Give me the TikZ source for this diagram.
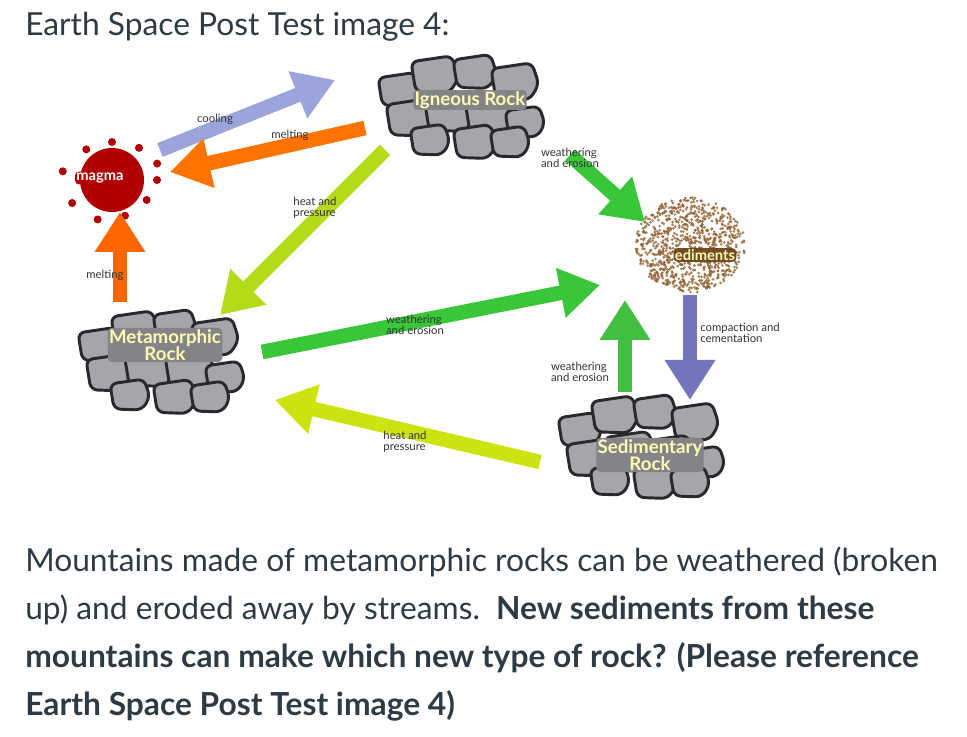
\documentclass[tikz,border=0pt]{standalone}
\usepackage{fontspec}
\setmainfont{Lato}
\usetikzlibrary{arrows.meta}
\definecolor{rockg}{RGB}{165,165,170}
\definecolor{rockd}{RGB}{40,40,45}
\definecolor{txt}{RGB}{45,59,69}
\tikzset{
 big/.style={-{Triangle[length=30pt,width=36pt]},line width=11pt},
 lbl/.style={font=\fontsize{8.5}{8}\selectfont,text=black!80,align=left,inner sep=0pt},
 rocklbl/.style={font=\fontsize{14}{13}\selectfont\bfseries,text=yellow!30!white,align=center,inner sep=1pt,fill=rockg!80!black,rounded corners=3pt},
 para/.style={font=\fontsize{23.8}{24}\selectfont,text=txt,anchor=west,inner sep=0pt},
 stone/.style={fill=rockg,draw=rockd,line width=2.2pt,rounded corners=5pt},
 pics/rocks/.style={code={
  \foreach \a/\b/\r in {-65/-10/22,-30/-25/24,10/-28/22,50/-18/24,-55/18/24,-15/12/26,25/15/25,60/22/20,-35/40/20,10/42/22,45/42/20}{
   \filldraw[stone] (\a-\r,\b-\r*0.55) -- (\a+\r*0.7,\b-\r*0.8) -- (\a+\r,\b+\r*0.1) -- (\a+\r*0.6,\b+\r*0.75) -- (\a-\r*0.8,\b+\r*0.7) -- cycle;}
 }}
}
\begin{document}
\begin{tikzpicture}[x=0.75pt,y=-0.75pt]
\useasboundingbox[fill=white] (0,0) rectangle (967,737);
\node[para] (title) at (25,27) {Earth Space Post Test image 4:};
% rocks
\pic at (465,100) {rocks};
\pic at (165,355) {rocks};
\pic at (645,440) {rocks};
\node[rocklbl] (ign) at (470,100) {Igneous Rock};
\node[rocklbl] (met) at (165,345) {Metamorphic\\Rock};
\node[rocklbl] (sed) at (650,455) {Sedimentary\\Rock};
% magma
\fill[red!70!black] (112,180) circle (24pt);
\foreach \ang/\d in {0/45,30/40,70/38,110/42,150/46,190/50,230/40,270/38,310/42,340/48}{
 \fill[red!70!black] (112,180) ++(\ang:\d) circle (3pt);}
\node[rocklbl,fill=red!70!black,font=\fontsize{11}{11}\selectfont\bfseries,text=white] (magma) at (100,178) {magma};
% sediments
\foreach \i in {1,...,900}{
 \pgfmathsetmacro{\rr}{50*sqrt(rnd)}\pgfmathsetmacro{\aa}{360*rnd}
 \fill[brown!75!black,opacity=0.8] (690,245) ++(\aa:{\rr*1.1} and {\rr*0.95}) circle (1.1pt);}
\node[rocklbl,font=\fontsize{11}{11}\selectfont\bfseries,fill=brown!60!black] (sedim) at (705,255) {ediments};
% arrow anchors
\coordinate (c1) at (160,150); \coordinate (c2) at (335,80);
\coordinate (m1) at (365,128); \coordinate (m2) at (170,172);
\coordinate (h1) at (385,150); \coordinate (h2) at (220,315);
\coordinate (w1) at (570,155); \coordinate (w2) at (645,222);
\coordinate (g1) at (262,352); \coordinate (g2) at (600,285);
\coordinate (o1) at (120,302); \coordinate (o2) at (120,212);
\coordinate (p1) at (690,295); \coordinate (p2) at (690,400);
\coordinate (s1) at (625,392); \coordinate (s2) at (625,300);
\coordinate (y1) at (540,462); \coordinate (y2) at (275,400);
\draw[big,color=cyan!30!blue!40] (c1) -- (c2);
\draw[big,color=orange!90!red] (m1) -- (m2);
\draw[big,color=yellow!70!green] (h1) -- (h2);
\draw[big,color=green!55!gray] (w1) -- (w2);
\draw[big,color=green!55!gray] (g1) -- (g2);
\draw[big,color=orange!80!red] (o1) -- (o2);
\draw[big,color=blue!35!gray!80] (p1) -- (p2);
\draw[big,color=green!50!gray] (s1) -- (s2);
\draw[big,color=yellow!80!green] (y1) -- (y2);
% labels
\node[lbl] (l1) at (215,119) {cooling};
\node[lbl] (l2) at (290,135) {melting};
\node[lbl] (l3) at (315,208) {heat and\\pressure};
\node[lbl] (l4) at (570,158) {weathering\\and erosion};
\node[lbl] (l5) at (105,275) {melting};
\node[lbl] (l6) at (415,325) {weathering\\and erosion};
\node[lbl] (l7) at (740,333) {compaction and\\cementation};
\node[lbl] (l8) at (580,372) {weathering\\and erosion};
\node[lbl] (l9) at (405,442) {heat and\\pressure};
% paragraph
\node[para] (p1t) at (25,562) {Mountains made of metamorphic rocks can be weathered (broken};
\node[para] (p2t) at (25,610) {up) and eroded away by streams.\ \ \textbf{New sediments from these}};
\node[para] (p3t) at (25,658) {\textbf{mountains can make which new type of rock? (Please reference}};
\node[para] (p4t) at (25,706) {\textbf{Earth Space Post Test image 4)}};
\end{tikzpicture}
\end{document}
